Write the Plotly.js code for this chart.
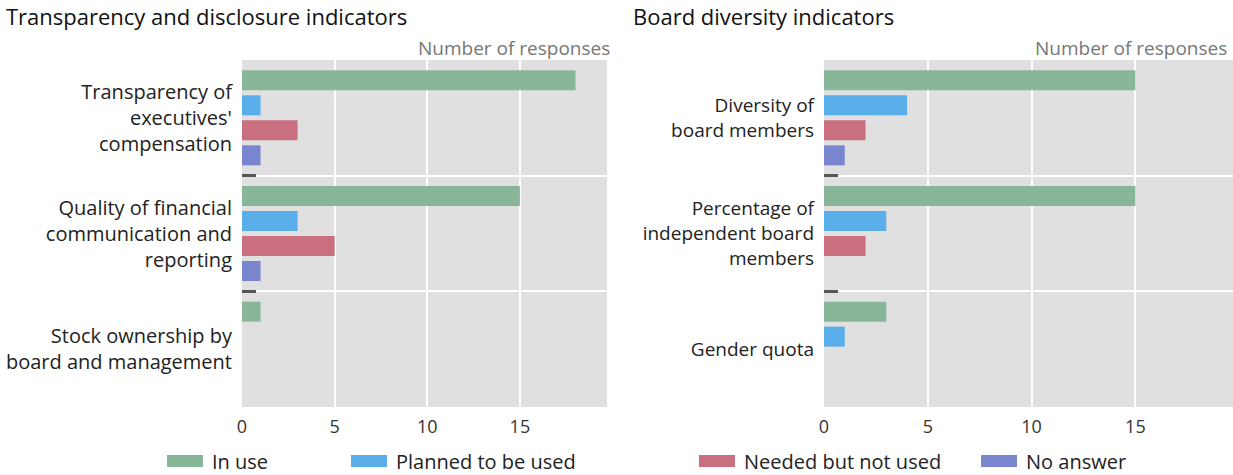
<!DOCTYPE html>
<html>
<head>
<meta charset="utf-8">
<script src="https://cdn.plot.ly/plotly-3.0.1.min.js"></script>
<style>
  html, body { margin: 0; padding: 0; background: #ffffff; }
  #chart { width: 1233px; height: 475px; }
</style>
</head>
<body>
<div id="chart"></div>
<script>
// ---- Data ----
const leftCategories = [
  "Transparency of<br>executives'<br>compensation",
  "Quality of financial<br>communication and<br>reporting",
  "Stock ownership by<br>board and management"
];
const rightCategories = [
  "Diversity of<br>board members",
  "Percentage of<br>independent board<br>members",
  "Gender quota"
];
const seriesNames = ["In use", "Planned to be used", "Needed but not used", "No answer"];

const leftInUse    = [18, 15, 1];
const leftPlanned  = [1, 3, 0];
const leftNeeded   = [3, 5, 0];
const leftNoAnswer = [1, 1, 0];

const rightInUse    = [15, 15, 3];
const rightPlanned  = [4, 3, 1];
const rightNeeded   = [2, 2, 0];
const rightNoAnswer = [1, 0, 0];

const xTickVals = [0, 5, 10, 15];

const leftTitle = "Transparency and disclosure indicators";
const rightTitle = "Board diversity indicators";
const axisNote = "Number of responses";

// ---- Styling ----
const colors = ["#88b698", "#5aafea", "#c96f7f", "#7a85d0"];
const legendIds = ["legend", "legend2", "legend3", "legend4"];
const FONT = "Open Sans, Noto Sans, sans-serif";

const W = 1233, H = 475;
const mT = 60, mB = 68;
const plotH = H - mT - mB;
function px2x(p) { return p / W; }
function py2y(p) { return (H - mB - p) / plotH; }

const leftVals = [leftInUse, leftPlanned, leftNeeded, leftNoAnswer];
const rightVals = [rightInUse, rightPlanned, rightNeeded, rightNoAnswer];

const traces = [];
seriesNames.forEach((name, i) => {
  traces.push({
    type: "bar", orientation: "h", name: name,
    x: leftVals[i], y: leftCategories,
    xaxis: "x", yaxis: "y",
    marker: { color: colors[i], line: { width: 0 } },
    legend: legendIds[i], showlegend: true,
    hoverinfo: "x+name"
  });
});
seriesNames.forEach((name, i) => {
  traces.push({
    type: "bar", orientation: "h", name: name,
    x: rightVals[i], y: rightCategories,
    xaxis: "x2", yaxis: "y2",
    marker: { color: colors[i], line: { width: 0 } },
    legend: legendIds[i], showlegend: false,
    hoverinfo: "x+name"
  });
});

const xAxisBase = {
  range: [0, 19.7], tickvals: xTickVals, ticks: "",
  showgrid: true, gridcolor: "#ffffff", gridwidth: 2,
  zeroline: true, zerolinecolor: "#e0e0e0", zerolinewidth: 1,
  showline: false, fixedrange: true, automargin: false,
  tickfont: { family: FONT, size: 18, color: "#333333" },
  ticklabelstandoff: 7
};
const yAxisBase = {
  type: "category", autorange: "reversed",
  tickson: "boundaries", ticks: "inside", ticklen: 14, tickwidth: 3, tickcolor: "#555555",
  showgrid: true, gridcolor: "#ffffff", gridwidth: 2,
  zeroline: false, showline: false, fixedrange: true, automargin: false,
  ticklabelstandoff: 9
};

const legendBase = {
  orientation: "h", xanchor: "left", yanchor: "middle",
  yref: "container", y: 1 - 461 / H, itemwidth: 44,
  font: { family: FONT, size: 20, color: "#222222" },
  bgcolor: "rgba(0,0,0,0)", borderwidth: 0
};

const layout = {
  width: W, height: H,
  margin: { l: 0, r: 0, t: mT, b: mB, pad: 0, autoexpand: false },
  paper_bgcolor: "#ffffff",
  plot_bgcolor: "#e0e0e0",
  font: { family: FONT, color: "#222222" },
  barmode: "group", bargap: 0.135, bargroupgap: 0.2,
  xaxis: Object.assign({}, xAxisBase, { domain: [px2x(242), px2x(607)], anchor: "y" }),
  yaxis: Object.assign({}, yAxisBase, { domain: [0, 1], anchor: "x",
    tickfont: { family: FONT, size: 20, color: "#222222" } }),
  xaxis2: Object.assign({}, xAxisBase, { domain: [px2x(824), 1], anchor: "y2" }),
  yaxis2: Object.assign({}, yAxisBase, { domain: [0, 1], anchor: "x2",
    tickfont: { family: FONT, size: 19, color: "#222222" } }),
  legend:  Object.assign({}, legendBase, { x: px2x(158) }),
  legend2: Object.assign({}, legendBase, { x: px2x(342) }),
  legend3: Object.assign({}, legendBase, { x: px2x(690) }),
  legend4: Object.assign({}, legendBase, { x: px2x(972) }),
  annotations: [
    { text: leftTitle, xref: "paper", yref: "paper", x: px2x(4), y: py2y(16),
      xanchor: "left", yanchor: "middle", showarrow: false,
      font: { family: FONT, size: 22, color: "#111111" } },
    { text: rightTitle, xref: "paper", yref: "paper", x: px2x(631), y: py2y(16),
      xanchor: "left", yanchor: "middle", showarrow: false,
      font: { family: FONT, size: 22, color: "#111111" } },
    { text: axisNote, xref: "paper", yref: "paper", x: px2x(612), y: py2y(48),
      xanchor: "right", yanchor: "middle", showarrow: false,
      font: { family: FONT, size: 19, color: "#777777" } },
    { text: axisNote, xref: "paper", yref: "paper", x: px2x(1229), y: py2y(48),
      xanchor: "right", yanchor: "middle", showarrow: false,
      font: { family: FONT, size: 19, color: "#777777" } }
  ],
  hovermode: false
};

Plotly.newPlot("chart", traces, layout, { displayModeBar: false, staticPlot: true }).then(() => {
  // widen legend swatches to match the reference's rectangular keys
  document.querySelectorAll("#chart .legendpoints path").forEach(p => {
    p.setAttribute("d", "M18,6H-18V-6H18Z");
  });
});
</script>
</body>
</html>
